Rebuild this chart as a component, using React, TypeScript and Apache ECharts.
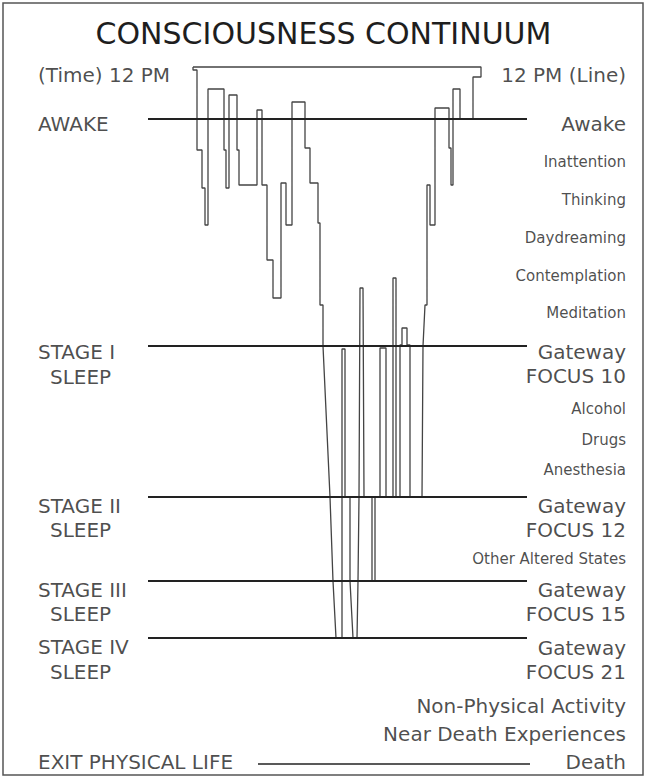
import React, { useEffect, useRef } from "react";
import * as echarts from "echarts";

// Time axis: minutes after 12 PM (0 .. 1440 = next 12 PM)
// Depth axis: depth of consciousness below the "Awake" line (arbitrary units)
const traceMinutes = [
  0, 0, 20, 20, 45, 45, 60, 60, 75, 75, 155, 155, 165, 165, 180, 180, 220, 220, 230, 230,
  320, 320, 345, 345, 370, 370, 400, 400, 440, 440, 465, 465, 495, 495, 560, 560, 585, 585,
  625, 625, 635, 635, 650, 650, 685, 700, 715, 745, 745, 760, 760, 785, 785, 800, 820, 825,
  830, 835, 850, 855, 895, 895, 910, 910, 935, 935, 965, 965, 1000, 1000, 1015, 1015, 1035,
  1035, 1045, 1045, 1070, 1070, 1085, 1085, 1145, 1150, 1160, 1170, 1170, 1185, 1185, 1210,
  1210, 1280, 1280, 1290, 1290, 1300, 1300, 1335, 1335, 1400, 1400, 1440, 1440, 0,
];
const traceDepth = [
  -52, -49, -49, 31, 31, 69, 69, 106, 106, -30, -30, 31, 31, 69, 69, -24, -24, 31, 31, 66,
  66, -9, -9, 66, 66, 141, 141, 179, 179, 64, 64, 106, 106, -17, -17, 29, 29, 64,
  64, 104, 104, 186, 186, 227, 378, 462, 519, 519, 230, 230, 378, 378, 462, 519, 519, 462,
  378, 169, 169, 378, 378, 462, 462, 378, 378, 229, 229, 378, 378, 159, 159, 378, 378,
  226, 226, 209, 209, 226, 226, 378, 378, 227, 186, 186, 66, 66, 106, 106,
  -11, -11, 29, 29, 66, 66, -30, -30, 0, 0, -42, -42, -52, -52,
];

// Horizontal reference levels
const levelNames = ["Awake", "Stage I", "Stage II", "Stage III", "Stage IV"];
const levelDepths = [0, 227, 378, 462, 519];
const exitDepth = 645;

// Left-side labels
const leftLabels = [
  "(Time) 12 PM", "AWAKE", "STAGE I", "SLEEP", "STAGE II", "SLEEP",
  "STAGE III", "SLEEP", "STAGE IV", "SLEEP", "EXIT PHYSICAL LIFE",
];
const leftLabelDepths = [-44, 5, 233, 258, 387, 411, 471, 495, 528, 553, 643];
const leftIndented = [0, 0, 0, 1, 0, 1, 0, 1, 0, 1, 0];

// Right-side labels (states of consciousness)
const stateNames = [
  "12 PM (Line)", "Awake", "Inattention", "Thinking", "Daydreaming", "Contemplation",
  "Meditation", "Gateway\nFOCUS 10", "Alcohol", "Drugs", "Anesthesia", "Gateway\nFOCUS 12",
  "Other Altered States", "Gateway\nFOCUS 15", "Gateway\nFOCUS 21", "Non-Physical Activity",
  "Near Death Experiences", "Death",
];
const stateDepths = [-44, 5, 43, 81, 119, 157, 194, 245, 290, 321, 351, 399, 440, 483, 541, 587, 615, 643];
const stateLarge = [1, 1, 0, 0, 0, 0, 0, 1, 0, 0, 0, 1, 0, 1, 1, 1, 1, 1];

// Layout constants (axis extents map the whole canvas)
const X_MIN = -965, X_MAX = 2270, Y_MIN = -119, Y_MAX = 660;
const LINE_X0 = -225, LINE_X1 = 1670;
const EXIT_X0 = 325, EXIT_X1 = 1685;
const LEFT_X = -775, SLEEP_X = -715, RIGHT_X = 2165;

const FONT = "DejaVu Sans";
const INK = "#1e1e1e";

export default function App() {
  const ref = useRef<HTMLDivElement>(null);
  useEffect(() => {
    if (!ref.current) return;
    const chart = echarts.init(ref.current, undefined, { renderer: "svg" });

    const levelSeries = levelNames.map((n, i) => ({
      name: n,
      type: "line",
      silent: true,
      showSymbol: false,
      data: [[LINE_X0, levelDepths[i]], [LINE_X1, levelDepths[i]]],
      lineStyle: { color: "#222", width: 1.8 },
      z: 3,
    }));

    const leftData = leftLabels.map((t, i) => ({
      value: [leftIndented[i] ? SLEEP_X : LEFT_X, leftLabelDepths[i]],
      name: t,
    }));
    const rightData = stateNames.map((t, i) => ({
      value: [RIGHT_X, stateDepths[i]],
      name: t,
      label: {
        fontSize: stateLarge[i] ? 20 : 15,
        lineHeight: stateLarge[i] ? 24 : 18,
      },
    }));

    chart.setOption({
      animation: false,
      backgroundColor: "#fff",
      title: {
        text: "CONSCIOUSNESS CONTINUUM",
        left: "center",
        top: 13,
        textStyle: { fontFamily: FONT, fontSize: 30, fontWeight: "normal", color: INK },
      },
      grid: { left: 0, right: 0, top: 0, bottom: 0 },
      xAxis: { type: "value", min: X_MIN, max: X_MAX, show: false },
      yAxis: { type: "value", min: Y_MIN, max: Y_MAX, inverse: true, show: false },
      graphic: [
        {
          type: "rect",
          shape: { x: 3, y: 3, width: 640, height: 772 },
          style: { fill: "none", stroke: "#555", lineWidth: 1.5 },
          silent: true,
        },
      ],
      series: [
        {
          name: "trace",
          type: "line",
          silent: true,
          showSymbol: false,
          data: traceMinutes.map((m, i) => [m, traceDepth[i]]),
          lineStyle: { color: "#444", width: 1.3 },
          z: 2,
        },
        ...levelSeries,
        {
          name: "exit",
          type: "line",
          silent: true,
          showSymbol: false,
          data: [[EXIT_X0, exitDepth], [EXIT_X1, exitDepth]],
          lineStyle: { color: "#222", width: 1.5 },
        },
        {
          name: "leftLabels",
          type: "scatter",
          silent: true,
          symbolSize: 0,
          data: leftData,
          label: {
            show: true,
            position: "right",
            distance: 0,
            formatter: "{b}",
            fontFamily: FONT,
            fontSize: 20,
            color: INK,
          },
        },
        {
          name: "rightLabels",
          type: "scatter",
          silent: true,
          symbolSize: 0,
          data: rightData,
          label: {
            show: true,
            position: "left",
            distance: 0,
            align: "right",
            formatter: "{b}",
            fontFamily: FONT,
            color: INK,
          },
        },
      ],
    });
    return () => chart.dispose();
  }, []);

  return (
    <div
      ref={ref}
      style={{ position: "fixed", left: 0, top: 0, width: 647, height: 779, background: "#fff" }}
    />
  );
}
